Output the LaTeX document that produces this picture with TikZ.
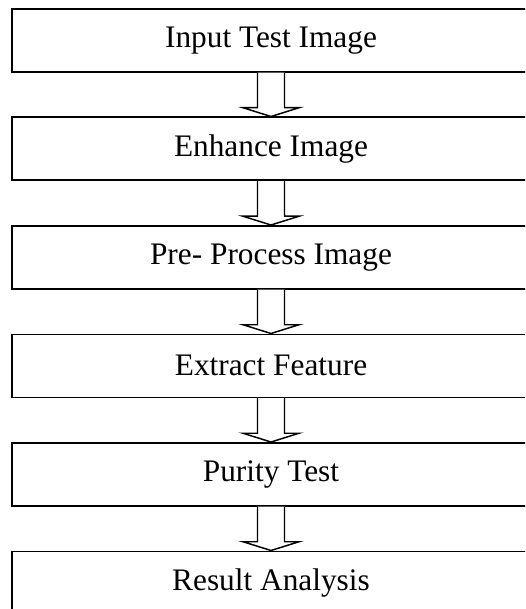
\documentclass[tikz,border=0pt]{standalone}
\usepackage{fontspec}
\setmainfont{Liberation Serif}
\usetikzlibrary{calc}
\begin{document}
\begin{tikzpicture}[x=0.75pt,y=-0.75pt,
  stepbox/.style={draw=black,line width=1.3pt,minimum width=388.5pt,minimum height=47.25pt,
    inner sep=0pt,font=\fontsize{23.5}{26}\selectfont,anchor=north},
  arr/.style={draw=black,line width=1.1pt,line join=miter,fill=white}]
\useasboundingbox (0,0) rectangle (525,609);
\clip (0,0) rectangle (525,609);
\fill[white] (0,0) rectangle (525,609);
\node[stepbox] (b1) at (271,8) {Input Test Image};
\node[stepbox] (b2) at (271,116.5) {Enhance Image};
\node[stepbox] (b3) at (271,225) {Pre- Process Image};
\node[stepbox] (b4) at (271,333.5) {Extract Feature};
\node[stepbox] (b5) at (271,442) {Purity Test};
\node[stepbox] (b6) at (271,550.5) {Result Analysis};
\foreach \a/\b in {b1/b2,b2/b3,b3/b4,b4/b5,b5/b6}{
  \draw[arr] ($(\a.south)+(-13.5,0)$) -- ($(\a.south)+(-13.5,35)$) -- ($(\a.south)+(-28,35)$)
    -- (\b.north) -- ($(\a.south)+(28,35)$) -- ($(\a.south)+(13.5,35)$) -- ($(\a.south)+(13.5,0)$);
}
\end{tikzpicture}
\end{document}
